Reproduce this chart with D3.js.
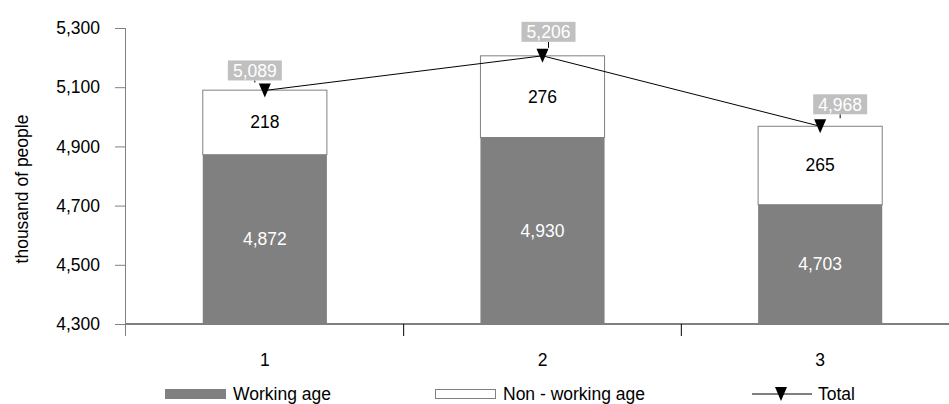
<!DOCTYPE html>
<html>
<head>
<meta charset="utf-8">
<script src="https://cdn.jsdelivr.net/npm/d3@7"></script>
<style>
  body { margin: 0; background: #fff; }
  text { font-family: "Liberation Sans", Arial, sans-serif; }
</style>
</head>
<body>
<svg id="chart" width="949" height="404"></svg>
<script>
// data
const categories = ["1", "2", "3"];
const workingAge = [4872, 4930, 4703];
const nonWorkingAge = [218, 276, 265];
const totals = [5089, 5206, 4968];
const yTicks = [4300, 4500, 4700, 4900, 5100, 5300];

const svg = d3.select("#chart");
const fmt = d3.format(",");
const fs = "17.5px";

const plotLeft = 126, plotRight = 959, plotTop = 28, plotBottom = 324;

const x = d3.scaleBand().domain(categories).range([plotLeft, plotRight]).paddingInner(0).paddingOuter(0);
const y = d3.scaleLinear().domain([4300, 5300]).range([plotBottom, plotTop]);
const barW = x.bandwidth() * 0.447;

// y axis
const yAxis = svg.append("g")
  .attr("transform", `translate(${plotLeft},0)`)
  .call(d3.axisLeft(y).tickValues(yTicks).tickFormat(fmt).tickSize(11).tickPadding(15));
yAxis.select(".domain").attr("stroke", "#808080").attr("d", `M-0.5,${plotTop}V${plotBottom + 12}`);
yAxis.selectAll(".tick line").attr("stroke", "#808080");
yAxis.selectAll("text").style("font-size", fs).style("font-family", "Liberation Sans").attr("fill", "#000");

// x axis
const xAxis = svg.append("g").attr("transform", `translate(0,${plotBottom})`);
xAxis.append("line").attr("x1", plotLeft).attr("x2", 949).attr("stroke", "#000");
xAxis.selectAll(".xt")
  .data(categories)
  .enter()
  .append("line")
  .attr("x1", d => x(d) + x.bandwidth())
  .attr("x2", d => x(d) + x.bandwidth())
  .attr("y1", 0).attr("y2", 12)
  .attr("stroke", "#000");
xAxis.selectAll(".xl")
  .data(categories)
  .enter()
  .append("text")
  .attr("x", d => x(d) + x.bandwidth() / 2)
  .attr("y", 42)
  .attr("text-anchor", "middle")
  .style("font-size", fs)
  .text(d => d);

// y title
svg.append("text")
  .attr("transform", "translate(28,189) rotate(-90)")
  .attr("text-anchor", "middle")
  .style("font-size", fs)
  .text("thousand of people");

// bars
const bars = svg.selectAll(".bar")
  .data(categories.map((c, i) => ({ c, w: workingAge[i], n: nonWorkingAge[i], t: totals[i] })))
  .enter()
  .append("g");

bars.append("rect")
  .attr("x", d => x(d.c) + (x.bandwidth() - barW) / 2)
  .attr("width", barW)
  .attr("y", d => y(d.w))
  .attr("height", d => y(4300) - y(d.w))
  .attr("fill", "#808080");

bars.append("rect")
  .attr("x", d => x(d.c) + (x.bandwidth() - barW) / 2)
  .attr("width", barW)
  .attr("y", d => y(d.w + d.n))
  .attr("height", d => y(d.w) - y(d.w + d.n))
  .attr("fill", "#fff")
  .attr("stroke", "#808080");

bars.append("text")
  .attr("x", d => x(d.c) + x.bandwidth() / 2)
  .attr("y", d => (y(d.w) + y(4300)) / 2 + 6)
  .attr("text-anchor", "middle")
  .attr("fill", "#fff")
  .style("font-size", fs)
  .text(d => fmt(d.w));

bars.append("text")
  .attr("x", d => x(d.c) + x.bandwidth() / 2)
  .attr("y", d => (y(d.w) + y(d.w + d.n)) / 2 + 6)
  .attr("text-anchor", "middle")
  .attr("fill", "#000")
  .style("font-size", fs)
  .text(d => fmt(d.n));

// total line
const cx = c => x(c) + x.bandwidth() / 2;
const line = d3.line().x((d, i) => cx(categories[i])).y(d => y(d));
svg.append("path")
  .attr("d", line(totals))
  .attr("fill", "none")
  .attr("stroke", "#000")
  .attr("stroke-width", 1);

const tri = "M-6,-7L6,-7L0,7Z";
svg.selectAll(".mk")
  .data(totals)
  .enter()
  .append("path")
  .attr("d", tri)
  .attr("transform", (d, i) => `translate(${cx(categories[i])},${y(d)})`)
  .attr("fill", "#000");

// total labels (nudged like the original)
const nudge = [[-10, -10], [6, -14], [20, -12]];
const lab = svg.selectAll(".tl")
  .data(totals)
  .enter()
  .append("g")
  .attr("transform", (d, i) => `translate(${cx(categories[i]) + nudge[i][0]},${y(d) + nudge[i][1]})`);
lab.append("line")
  .attr("x1", 0).attr("x2", 0)
  .attr("y1", 0)
  .attr("y2", (d, i) => Math.max(0, -nudge[i][1] - 8))
  .attr("stroke", "#000");
lab.append("rect")
  .attr("x", -27).attr("y", -20)
  .attr("width", 54).attr("height", 20)
  .attr("fill", "#c0c0c0");
lab.append("text")
  .attr("y", -3.5)
  .attr("text-anchor", "middle")
  .attr("fill", "#fff")
  .style("font-size", fs)
  .text(d => fmt(d));

// legend
const lg = svg.append("g").attr("transform", "translate(0,394)");
lg.append("rect").attr("x", 165).attr("y", -5).attr("width", 61).attr("height", 10).attr("fill", "#808080");
lg.append("text").attr("x", 233).attr("y", 6).style("font-size", fs).text("Working age");
lg.append("rect").attr("x", 435.5).attr("y", -4.5).attr("width", 60).attr("height", 9).attr("fill", "#fff").attr("stroke", "#808080");
lg.append("text").attr("x", 503).attr("y", 6).style("font-size", fs).text("Non - working age");
lg.append("line").attr("x1", 752).attr("x2", 812).attr("stroke", "#000");
lg.append("path").attr("d", tri).attr("transform", "translate(781,0)").attr("fill", "#000");
lg.append("text").attr("x", 818).attr("y", 6).style("font-size", fs).text("Total");
</script>
</body>
</html>
